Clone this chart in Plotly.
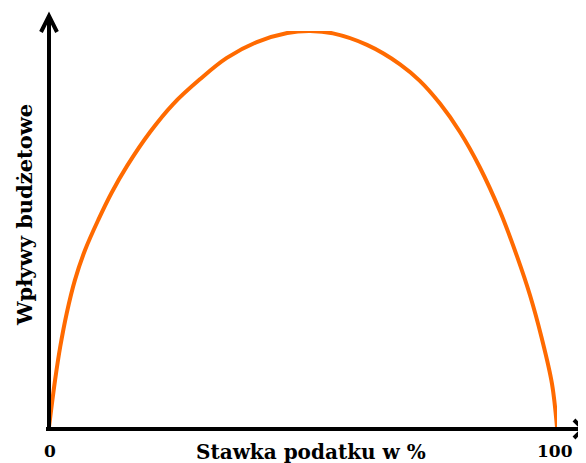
import plotly.graph_objects as go

# Laffer curve points (tax rate %, budget revenue, peak = 100)
tax_rate = [0, 1.2, 2.2, 3.5, 5.1, 7.1, 9.7, 12.3, 15.4, 19.9, 24.4, 29.7, 35.0, 40.9,
            46.9, 51.4, 55.9, 62.6, 69.1, 73.0, 77.0, 80.9, 84.8, 88.8, 92.1, 94.7,
            97.0, 99.0, 100]
revenue = [0, 11.9, 20.2, 28.8, 37.1, 44.7, 52.3, 59.1, 66.0, 74.5, 81.5, 87.8, 93.2, 97.2,
           99.5, 100, 99.4, 96.5, 91.6, 87.4, 81.6, 74.5, 65.6, 54.4, 43.2, 33.2,
           22.4, 11.0, 0]

x_label = "Stawka podatku w %"
y_label = "Wpływy budżetowe"
x_tick_labels = ["0", "100"]

# the page body has an 8px margin, so the figure is drawn 8px in from the corner
OFF = 8
W, H = 586 - OFF, 463 - OFF
L, R, T, B = 49 - OFF, 29, 31 - OFF, 36
PW, PH = W - L - R, H - T - B


def px(x):
    """screen pixel x -> paper x"""
    return (x - OFF - L) / PW


def py(y):
    """screen pixel y -> paper y"""
    return (H - B - (y - OFF)) / PH


fig = go.Figure()
fig.add_trace(go.Scatter(x=tax_rate, y=revenue, mode="lines",
                         line=dict(color="#FF6A00", width=4, shape="spline", smoothing=1.0),
                         hoverinfo="skip", showlegend=False, cliponaxis=False))

black = dict(color="black", width=4)
shapes = [
    # y axis
    dict(type="line", xref="paper", yref="paper", x0=px(49), y0=py(431), x1=px(49), y1=py(16), line=black),
    dict(type="path", xref="paper", yref="paper",
         path=f"M {px(41)},{py(32)} L {px(49)},{py(16)} L {px(57)},{py(32)}", line=black),
    # x axis
    dict(type="line", xref="paper", yref="paper", x0=px(46), y0=py(429), x1=px(583), y1=py(429), line=black),
    dict(type="path", xref="paper", yref="paper",
         path=f"M {px(574)},{py(420)} L {px(583)},{py(429)} L {px(574)},{py(438)}", line=black),
]

font = dict(family="DejaVu Serif", size=20, color="black")
ylab_font = dict(family="DejaVu Serif", size=21, color="black")
tick_font = dict(family="DejaVu Serif", size=17, color="black")
annotations = [
    dict(text=f"<b>{x_tick_labels[0]}</b>", xref="paper", yref="paper", x=px(50), y=py(451),
         showarrow=False, font=tick_font, xanchor="center", yanchor="middle"),
    dict(text=f"<b>{x_tick_labels[1]}</b>", xref="paper", yref="paper", x=px(555), y=py(451),
         showarrow=False, font=tick_font, xanchor="center", yanchor="middle"),
    dict(text=f"<b>{x_label}</b>", xref="paper", yref="paper", x=px(311), y=py(438),
         showarrow=False, font=font, xanchor="center", yanchor="top"),
    dict(text=f"<b>{y_label}</b>", xref="paper", yref="paper", x=px(24), y=py(215),
         showarrow=False, font=ylab_font, xanchor="center", yanchor="middle", textangle=-90),
]

fig.update_layout(
    width=W, height=H,
    margin=dict(l=L, r=R, t=T, b=B, pad=0),
    paper_bgcolor="white", plot_bgcolor="white",
    xaxis=dict(range=[0, 100], visible=False, fixedrange=True),
    yaxis=dict(range=[0, 100], visible=False, fixedrange=True),
    shapes=shapes, annotations=annotations,
    showlegend=False,
)
fig.write_html("out.html")
